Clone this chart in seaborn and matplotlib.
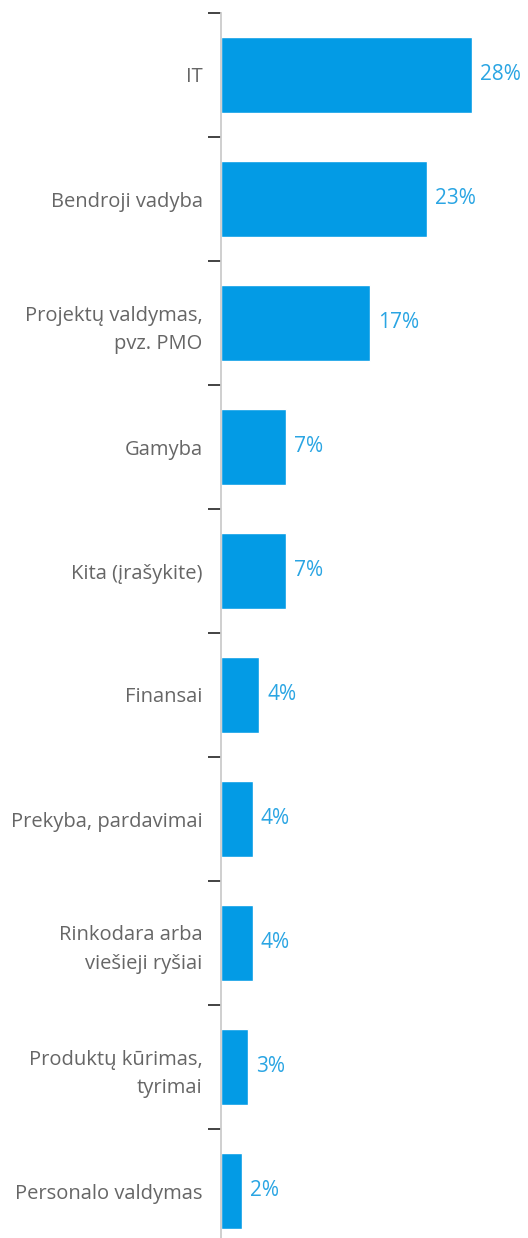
import numpy as np
import pandas as pd
import matplotlib
matplotlib.use("Agg")
import matplotlib.pyplot as plt
import seaborn as sns

categories = ["IT", "Bendroji vadyba", "Projektų valdymas,\npvz. PMO", "Gamyba",
              "Kita (įrašykite)", "Finansai", "Prekyba, pardavimai",
              "Rinkodara arba\nviešieji ryšiai", "Produktų kūrimas,\ntyrimai",
              "Personalo valdymas"]
values = [28.0, 23.0, 16.7, 7.3, 7.3, 4.3, 3.6, 3.6, 3.1, 2.4]

sns.set_theme(style="white")
plt.rcParams['font.family'] = ['Open Sans', 'DejaVu Sans']

df = pd.DataFrame({"cat": categories, "val": values})

fig = plt.figure(figsize=(5.28, 12.38), dpi=100)
W, H = 528, 1238
ax_left = 220.7 / W
ax_top = 1 - 13 / H
ax_bottom = -15 / H
ax = fig.add_axes([ax_left, ax_bottom, 1 - ax_left, ax_top - ax_bottom])

sns.barplot(data=df, y="cat", x="val", orient="h", color="#039be5",
            saturation=1, width=0.61, ax=ax)
ax.set_xlim(0, (W - 220.7) / 8.96)
ax.set_ylim(len(categories) - 0.5, -0.5)

for i, v in enumerate(values):
    ax.annotate(f"{round(v)}%", xy=(v, i), xytext=(8, 0), textcoords="offset pixels",
                va="center", ha="left", color="#2aa5e3", fontsize=15)

ax.set_xlabel("")
ax.set_ylabel("")
ax.set_xticks([])
for s in ["top", "right", "bottom"]:
    ax.spines[s].set_visible(False)
ax.spines["left"].set_color("#cccccc")
ax.spines["left"].set_linewidth(1.3)

ax.tick_params(axis="y", which="major", length=0, pad=13, labelsize=14.5, labelcolor="#666666")
for t in ax.get_yticklabels():
    t.set_linespacing(1.55)
ax.set_yticks(np.arange(len(categories) + 1) - 0.5, minor=True)
ax.tick_params(axis="y", which="minor", length=9.5, width=1.2, color="#222222", left=True)

fig.savefig("out.png", dpi=100)
